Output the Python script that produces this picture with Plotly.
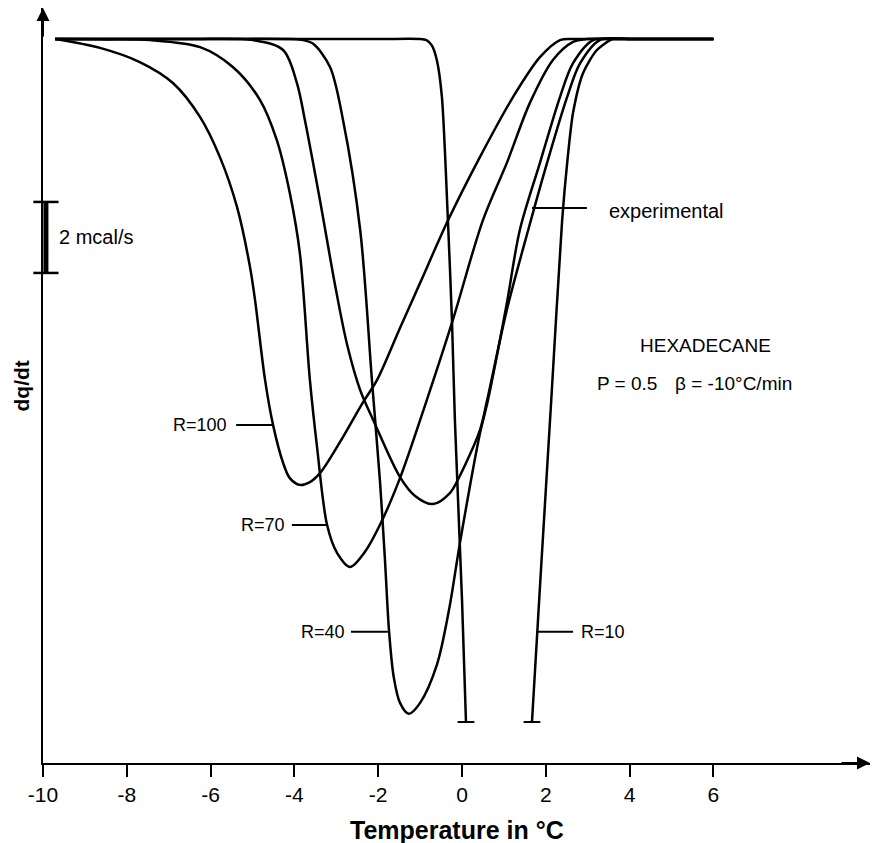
import plotly.graph_objects as go

# ---------------- data (temperature in °C, dq/dt in mcal/s, baseline = 0) ----------------
x_tick_vals = [-10, -8, -6, -4, -2, 0, 2, 4, 6]
x_tick_text = ["-10", "-8", "-6", "-4", "-2", "0", "2", "4", "6"]

r100_x = [-9.71, -8.64, -7.69, -6.90, -6.25, -5.78, -5.37, -5.06, -4.94, -4.70, -4.51, -4.27, -4.11,
          -3.87, -3.63, -3.39, -2.91, -2.36, -2.03, -1.48, -1.00, -0.33, 0.43, 1.22, 1.86, 2.34, 2.65,
          3.2, 6.0]
r100_y = [0, -0.25, -0.65, -1.24, -2.20, -3.32, -4.73, -6.42, -7.35, -9.61, -10.87, -11.94, -12.37,
          -12.56, -12.48, -12.23, -11.35, -10.23, -9.61, -8.14, -6.87, -5.10, -3.32, -1.63, -0.51, -0.03, 0,
          0, 0]

r70_x = [-9.71, -8.6, -7.45, -6.25, -5.47, -4.82, -4.42, -4.11, -3.87, -3.63, -3.46, -3.22, -2.98,
         -2.67, -2.32, -1.96, -1.48, -0.84, -0.22, 0.50, 1.07, 1.62, 2.17, 2.65, 2.98, 3.5, 6.0]
r70_y = [0, -0.01, -0.03, -0.23, -0.79, -1.72, -2.85, -4.34, -6.03, -9.61, -11.49, -13.69, -14.48,
         -14.87, -14.45, -13.69, -12.37, -10.17, -7.92, -5.10, -3.49, -1.80, -0.59, -0.08, 0, 0, 0]

r40_x = [-9.71, -6.0, -4.2, -3.85, -3.56, -3.15, -2.84, -2.43, -2.15, -1.96, -1.84, -1.74, -1.63, -1.48,
         -1.27, -1.00, -0.60, -0.31, -0.05, 0.43, 0.62, 1.07, 1.38, 1.86, 2.34, 2.65, 3.13, 3.77, 4.3, 6.0]
r40_y = [0, 0, 0, -0.02, -0.13, -0.79, -2.28, -5.38, -9.61, -12.42, -14.65, -16.70, -17.97, -18.70,
         -19.01, -18.70, -17.63, -16.08, -14.20, -11.10, -10.17, -7.44, -5.38, -3.49, -1.63, -0.68, -0.03,
         0, 0, 0]

exp_x = [-9.71, -6.5, -4.99, -4.27, -3.94, -3.75, -3.39, -3.03, -2.74, -2.43, -2.12, -1.48, -1.12,
         -0.69, -0.29, -0.10, 0.43, 0.60, 1.07, 1.58, 2.03, 2.51, 2.82, 3.29, 4.0, 4.6, 6.0]
exp_y = [0, 0, -0.03, -0.31, -1.24, -2.28, -4.54, -6.93, -8.62, -9.89, -10.73, -12.34, -12.87,
         -13.10, -12.79, -12.42, -11.01, -10.17, -7.63, -5.38, -3.49, -1.63, -0.68, -0.03, 0, 0, 0]

# R = 10 goes off scale: two branches
r10a_x = [-9.71, -2.0, -1.0, -0.85, -0.72, -0.60, -0.48, -0.34, -0.24, -0.17, 0.0, 0.095]
r10a_y = [0, 0, 0, -0.03, -0.18, -0.60, -1.63, -5.00, -7.92, -10.73, -15.80, -19.24]
r10b_x = [1.67, 1.87, 2.13, 2.39, 2.51, 2.65, 2.89, 3.22, 3.60, 4.0, 6.0]
r10b_y = [-19.24, -15.24, -10.17, -5.10, -3.49, -2.08, -0.96, -0.31, 0, 0, 0]

scale_top = -4.59      # mcal/s
scale_len = 2.0        # 2 mcal/s scale bar

# ---------------- figure ----------------
fig = go.Figure()
line_style = dict(color="black", width=2.5, shape="spline", smoothing=0.9)

for xs, ys in [(r100_x, r100_y), (r70_x, r70_y), (r40_x, r40_y), (exp_x, exp_y)]:
    fig.add_trace(go.Scatter(x=xs, y=ys, mode="lines", line=line_style,
                             hoverinfo="skip", showlegend=False))

fig.add_trace(go.Scatter(x=r10a_x + [None] + r10b_x, y=r10a_y + [None] + r10b_y,
                         mode="lines", line=dict(color="black", width=2.5, shape="spline", smoothing=0.7),
                         connectgaps=False, hoverinfo="skip", showlegend=False))
# truncation bars at the off-scale ends of R = 10
fig.add_trace(go.Scatter(x=[r10a_x[-1], r10b_x[0]], y=[r10a_y[-1], r10b_y[0]], mode="markers",
                         marker=dict(symbol="line-ew", size=12, line=dict(color="black", width=2)),
                         hoverinfo="skip", showlegend=False, cliponaxis=False))

# scale bar (2 mcal/s)
fig.add_trace(go.Scatter(x=[-9.93, -9.93], y=[scale_top, scale_top - scale_len], mode="lines+markers",
                         line=dict(color="black", width=5),
                         marker=dict(symbol="line-ew", size=18, line=dict(color="black", width=2.5)),
                         hoverinfo="skip", showlegend=False, cliponaxis=False))

annotations = []
# axis arrows
annotations.append(dict(xref="paper", yref="paper", x=1.0, y=0, ax=-30, ay=0,
                        showarrow=True, arrowhead=2, arrowsize=1.3, arrowwidth=2,
                        arrowcolor="black", text=""))
annotations.append(dict(xref="paper", yref="paper", x=0, y=1.0, ax=0, ay=30,
                        showarrow=True, arrowhead=2, arrowsize=1.3, arrowwidth=2,
                        arrowcolor="black", text=""))

def label(text, x, y, anchor, size=18, bold=False):
    annotations.append(dict(xref="x", yref="y", x=x, y=y, text=("<b>%s</b>" % text) if bold else text,
                            showarrow=False, xanchor=anchor, yanchor="middle",
                            font=dict(size=size, color="black")))

label("R=100", -5.56, -10.87, "right")
label("R=70", -4.18, -13.69, "right")
label("R=40", -2.74, -16.70, "right")
label("R=10", 2.79, -16.70, "left")
label("experimental", 3.46, -4.85, "left", size=20)
label("HEXADECANE", 5.80, -8.62, "center", size=19)
label("P = 0.5", 3.17, -9.69, "left", size=19)
label("β = -10°C/min", 5.04, -9.69, "left", size=19)
label("2 mcal/s", -9.67, scale_top - scale_len / 2, "left", size=20)

annotations.append(dict(xref="paper", yref="paper", x=-0.0254, y=0.5, text="<b>dq/dt</b>",
                        textangle=-90, showarrow=False, xanchor="center", yanchor="middle",
                        font=dict(size=21, color="black")))
annotations.append(dict(xref="paper", yref="paper", x=0.5, y=-0.0887, text="<b>Temperature in °C</b>",
                        showarrow=False, xanchor="center", yanchor="middle",
                        font=dict(size=25, color="black")))

shapes = []
for x0, x1, y in [(-5.39, -4.51, -10.87), (-4.06, -3.22, -13.69), (-2.65, -1.77, -16.70),
                  (1.79, 2.65, -16.70), (1.67, 2.98, -4.76)]:
    shapes.append(dict(type="line", xref="x", yref="y", x0=x0, x1=x1, y0=y, y1=y,
                       line=dict(color="black", width=2)))

fig.update_layout(
    width=873, height=843,
    margin=dict(l=43, r=3, t=8, b=80, autoexpand=False),
    plot_bgcolor="white", paper_bgcolor="white",
    showlegend=False,
    font=dict(family="Liberation Sans, Arial, sans-serif", color="black"),
    annotations=annotations, shapes=shapes,
    xaxis=dict(range=[-10, 9.737], showgrid=False, zeroline=False, showline=True,
               linecolor="black", linewidth=2, ticks="outside", ticklen=12, tickwidth=2,
               tickcolor="black", tickvals=x_tick_vals, ticktext=x_tick_text,
               tickfont=dict(size=21, color="black")),
    yaxis=dict(range=[-20.394, 0.873], showgrid=False, zeroline=False, showline=True,
               linecolor="black", linewidth=2, ticks="", showticklabels=False),
)

fig.write_html("out.html")
